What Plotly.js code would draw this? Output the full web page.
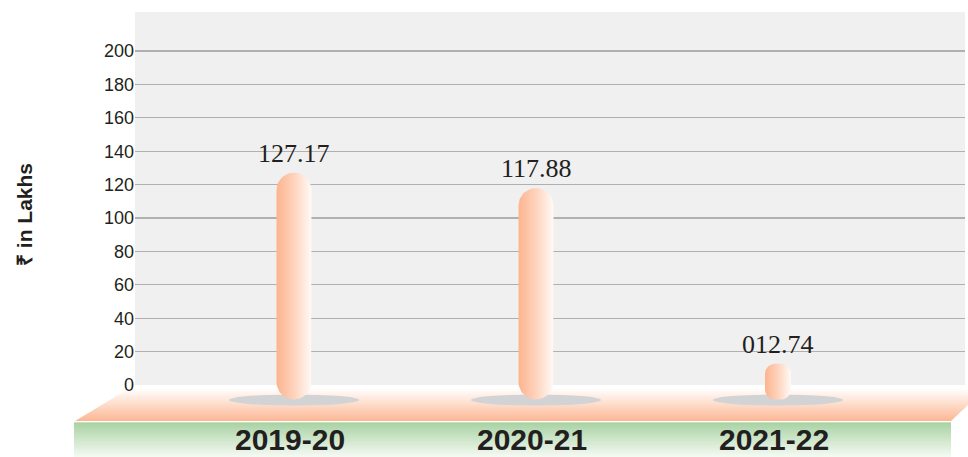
<!DOCTYPE html>
<html><head><meta charset="utf-8">
<script src="https://cdn.plot.ly/plotly-3.0.1.min.js"></script>
<style>html,body{margin:0;padding:0;background:#fff}#chart{width:968px;height:457px}</style>
</head><body><div id="chart"></div>
<script>
// ---- data ----
const categories = ['2019-20', '2020-21', '2021-22'];
const values = [127.17, 117.88, 12.74];
const valueLabels = ['127.17', '117.88', '012.74'];
const yTickValues = [0, 20, 40, 60, 80, 100, 120, 140, 160, 180, 200];
const yAxisTitle = '₹ in Lakhs';

// ---- geometry / style ----
const W = 968, H = 457;
const PL = 135, PR = 965, PT = 12, PB = 457;
const X0PX = 294, XSTEP = 242;
const Y0PX = 385, YSCALE = 1.67;
const xRange = [(PL - X0PX) / XSTEP, (PR - X0PX) / XSTEP];
const yRange = [-(PB - Y0PX) / YSCALE, (Y0PX - PT) / YSCALE];
const barWidthPx = [35, 35, 26], barRadiusPx = [17.5, 17.5, 10];
const barBottomPx = 14.5;
const TEXT = '#231f20';

const px = x => x / W, py = y => 1 - y / H;

function capsule(i, v) {
  const hw = barWidthPx[i] / 2;
  const topPx = v * YSCALE, botPx = -barBottomPx;
  const rr = Math.min(barRadiusPx[i], (topPx - botPx) / 2, hw);
  const pts = [];
  const corner = (cx, cy, a0, a1) => {
    for (let k = 0; k <= 14; k++) {
      const a = a0 + (a1 - a0) * k / 14;
      pts.push([cx + rr * Math.cos(a), cy + rr * Math.sin(a)]);
    }
  };
  corner(-hw + rr, topPx - rr, Math.PI, Math.PI / 2);
  corner(hw - rr, topPx - rr, Math.PI / 2, 0);
  corner(hw - rr, botPx + rr, 0, -Math.PI / 2);
  corner(-hw + rr, botPx + rr, -Math.PI / 2, -Math.PI);
  pts.push(pts[0]);
  return { x: pts.map(p => i + p[0] / XSTEP), y: pts.map(p => p[1] / YSCALE) };
}

function mix(c1, c2, t) {
  const a = [1, 3, 5].map(k => parseInt(c1.substr(k, 2), 16));
  const b = [1, 3, 5].map(k => parseInt(c2.substr(k, 2), 16));
  return 'rgb(' + a.map((v, k) => Math.round(v + (b[k] - v) * t)).join(',') + ')';
}

const traces = values.map((v, i) => {
  const c = capsule(i, v);
  return {
    type: 'scatter', mode: 'lines', x: c.x, y: c.y,
    fill: 'toself', line: { width: 0, color: 'rgba(0,0,0,0)' },
    fillcolor: '#fdc6aa',
    fillgradient: { type: 'horizontal', colorscale: [[0, '#fcb48f'], [0.5, '#fed3bd'], [1, '#fffaf6']] },
    hoverinfo: 'skip', showlegend: false
  };
});

const shapes = [];
// plot background
shapes.push({ type: 'rect', xref: 'paper', yref: 'paper', x0: px(PL), x1: px(PR), y0: py(Y0PX), y1: py(PT),
  fillcolor: '#f0f0f0', line: { width: 0 }, layer: 'below' });
// floor (gradient slices)
const xl = y => y <= 385 ? 135 : 135 - (y - 385) * (60 / 36);
const xr = y => y <= 405 ? 968 : 968 - (y - 405) * (17 / 16);
for (let y = 385; y < 421; y += 1) {
  const t = Math.max(0, Math.min(1, (y - 388) / 32));
  const y2 = y + 1.05;
  const path = `M ${px(xl(y))} ${py(y)} L ${px(xr(y))} ${py(y)} L ${px(xr(y2))} ${py(y2)} L ${px(xl(y2))} ${py(y2)} Z`;
  shapes.push({ type: 'path', xref: 'paper', yref: 'paper', path: path,
    fillcolor: mix('#ffffff', '#fcb895', t), line: { width: 0 }, layer: 'below' });
}
// green strip
for (let y = 422.5; y < 457; y += 1) {
  const t = (y - 422.5) / 34.5;
  shapes.push({ type: 'rect', xref: 'paper', yref: 'paper', x0: px(74), x1: px(951), y0: py(y + 1.05), y1: py(y),
    fillcolor: mix('#8cc485', '#f3f9f1', t), line: { width: 0 }, layer: 'below' });
}
// shadows under bars
categories.forEach((c, i) => {
  shapes.push({ type: 'circle', xref: 'x', yref: 'y', x0: i - 65 / XSTEP, x1: i + 65 / XSTEP,
    y0: -20.5 / YSCALE, y1: -9.5 / YSCALE, fillcolor: '#d1d3d4', line: { width: 0 }, layer: 'below' });
});

const annotations = [];
values.forEach((v, i) => {
  annotations.push({ xref: 'x', yref: 'y', x: i, y: v, text: valueLabels[i], showarrow: false,
    yanchor: 'bottom', yshift: 3, font: { family: 'Liberation Serif, Times New Roman, serif', size: 26, color: TEXT } });
});
categories.forEach((c, i) => {
  annotations.push({ xref: 'x', yref: 'paper', x: i, y: py(457), text: c, showarrow: false,
    yanchor: 'bottom', borderpad: 0, xshift: -4,
    font: { family: 'Liberation Sans, Arial, sans-serif', size: 30, color: TEXT, weight: 'bold' } });
});
annotations.push({ xref: 'paper', yref: 'paper', x: px(24), y: py(215), text: yAxisTitle, textangle: -90,
  xanchor: 'center', yanchor: 'middle', showarrow: false,
  font: { family: 'Liberation Sans, Arial, sans-serif', size: 21, color: TEXT, weight: 'bold' } });

const layout = {
  width: W, height: H, margin: { l: 0, r: 0, t: 0, b: 0, pad: 0 },
  paper_bgcolor: '#ffffff', plot_bgcolor: 'rgba(0,0,0,0)', showlegend: false,
  xaxis: { domain: [px(PL), px(PR)], range: xRange, visible: false, fixedrange: true },
  yaxis: { domain: [0, py(PT)], range: yRange, tickvals: yTickValues, ticks: '', showline: false,
    showgrid: true, gridcolor: '#b0b0b0', gridwidth: 1.3, zeroline: true, zerolinecolor: 'rgba(0,0,0,0)',
    tickfont: { family: 'Liberation Sans, Arial, sans-serif', size: 18, color: TEXT }, fixedrange: true },
  shapes: shapes, annotations: annotations
};

Plotly.newPlot('chart', traces, layout, { displayModeBar: false, staticPlot: true });
</script>
</body></html>
